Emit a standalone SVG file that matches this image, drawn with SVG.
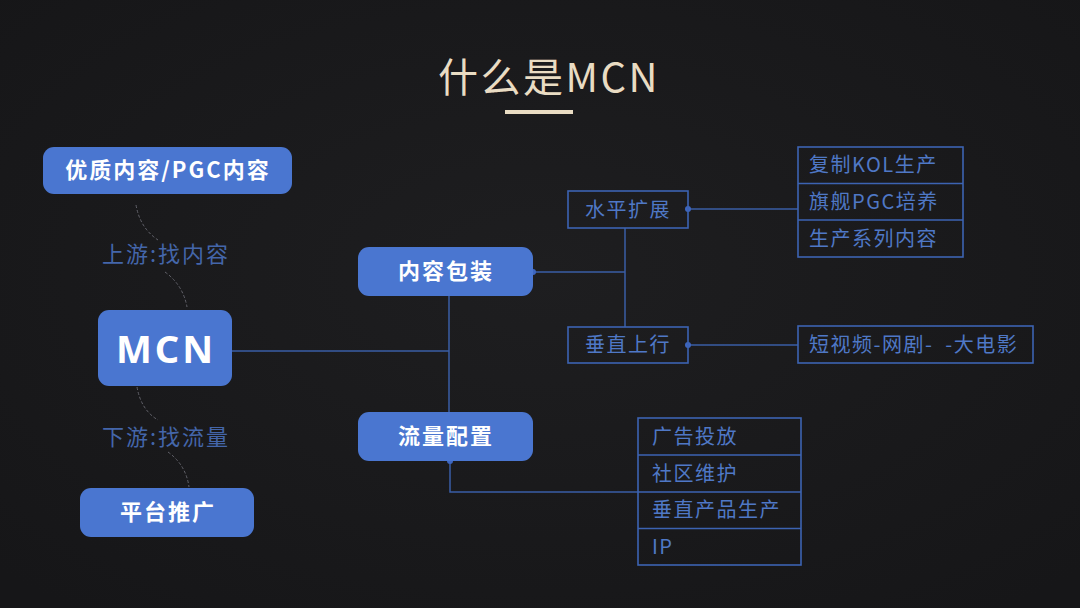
<svg xmlns="http://www.w3.org/2000/svg" width="1080" height="608" viewBox="0 0 1080 608">
<defs>
<radialGradient id="bg" cx="50%" cy="45%" r="70%">
<stop offset="0" stop-color="#1e1e20"/>
<stop offset="1" stop-color="#161618"/>
</radialGradient>
<style>
.fill{fill:#4a76d0;}
.ft{fill:#ffffff;font-family:"Noto Sans CJK SC","Noto Sans",sans-serif;font-weight:700;font-size:22px;letter-spacing:2px;text-anchor:middle;}
.box{fill:none;stroke:#3c63b2;stroke-width:1.6;}
.bt{fill:#4f78c6;font-family:"Noto Sans CJK SC","Noto Sans",sans-serif;font-size:20px;letter-spacing:1.5px;}
.lbl{fill:#4466aa;font-family:"Noto Sans CJK SC","Noto Sans",sans-serif;font-size:22px;letter-spacing:2px;text-anchor:middle;}
.ln{fill:none;stroke:#3a5ea6;stroke-width:1.5;}
.dash{fill:none;stroke:#62626a;stroke-width:1;stroke-dasharray:3 2;}
.dot{fill:#3d66c0;}
</style>
</defs>
<rect width="1080" height="608" fill="url(#bg)"/>
<g id="title">
<text x="549" y="92" fill="#e9dcc3" font-family="Noto Sans CJK SC,Noto Sans,sans-serif" font-size="40" letter-spacing="2.5" text-anchor="middle">什么是MCN</text>
<rect x="505" y="110" width="68" height="4" fill="#e9dcc3"/>
</g>
<g id="connectors">
<path class="dash" d="M136,205 Q140,228 158,240"/>
<path class="dash" d="M165,272 Q183,285 187,307"/>
<path class="dash" d="M137,387 Q141,410 158,420"/>
<path class="dash" d="M168,452 Q186,465 189,487"/>
<path class="ln" d="M232,351 H449"/>
<path class="ln" d="M449,296 V412"/>
<path class="ln" d="M533,272 H625"/>
<path class="ln" d="M625,228 V327"/>
<path class="ln" d="M688,209 H798"/>
<path class="ln" d="M688,345 H798"/>
<path class="ln" d="M450,461 V492 H638"/>
<circle class="dot" cx="533" cy="272" r="3"/>
<circle class="dot" cx="688" cy="209" r="3"/>
<circle class="dot" cx="688" cy="345" r="3"/>
<circle class="dot" cx="450" cy="461" r="3"/>
</g>
<g id="label-up"><text class="lbl" x="166" y="262">上游:找内容</text></g>
<g id="label-down"><text class="lbl" x="166" y="445">下游:找流量</text></g>
<g id="node-pgc">
<rect class="fill" x="43" y="147" width="249" height="47" rx="11"/>
<text class="ft" x="168" y="178">优质内容/PGC内容</text>
</g>
<g id="node-mcn">
<rect class="fill" x="98" y="310" width="134" height="76" rx="11"/>
<text x="166" y="363" fill="#ffffff" font-family="Noto Sans,sans-serif" font-weight="700" font-size="38" letter-spacing="3" text-anchor="middle">MCN</text>
</g>
<g id="node-platform">
<rect class="fill" x="80" y="488" width="174" height="49" rx="11"/>
<text class="ft" x="168" y="520">平台推广</text>
</g>
<g id="node-content">
<rect class="fill" x="358" y="247" width="175" height="49" rx="11"/>
<text class="ft" x="446" y="279">内容包装</text>
</g>
<g id="node-traffic">
<rect class="fill" x="358" y="412" width="175" height="49" rx="11"/>
<text class="ft" x="446" y="444">流量配置</text>
</g>
<g id="node-horizontal">
<rect class="box" x="568" y="191" width="120" height="37"/>
<text class="bt" x="628" y="216.5" text-anchor="middle">水平扩展</text>
</g>
<g id="node-vertical">
<rect class="box" x="568" y="327" width="120" height="36"/>
<text class="bt" x="628" y="352" text-anchor="middle">垂直上行</text>
</g>
<g id="node-list1">
<rect class="box" x="798" y="147" width="165" height="110"/>
<path class="box" d="M798,183.5 H963 M798,220 H963"/>
<text class="bt" x="809" y="172">复制KOL生产</text>
<text class="bt" x="809" y="208.5">旗舰PGC培养</text>
<text class="bt" x="809" y="245.5">生产系列内容</text>
</g>
<g id="node-film">
<rect class="box" x="798" y="326" width="235" height="37"/>
<text class="bt" x="809" y="351.5" xml:space="preserve">短视频-网剧-  -大电影</text>
</g>
<g id="node-list2">
<rect class="box" x="638" y="418" width="163" height="147"/>
<path class="box" d="M638,455 H801 M638,492 H801 M638,528.5 H801"/>
<text class="bt" x="652" y="443.5">广告投放</text>
<text class="bt" x="652" y="480.5">社区维护</text>
<text class="bt" x="652" y="517">垂直产品生产</text>
<text class="bt" x="652" y="553.5">IP</text>
</g>
</svg>
